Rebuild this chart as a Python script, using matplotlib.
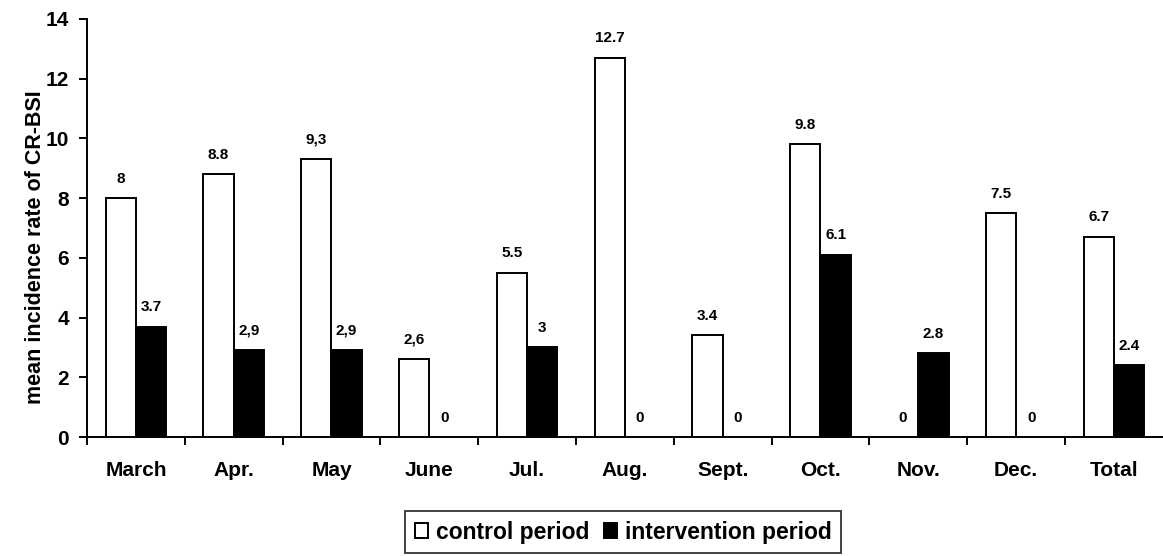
import matplotlib.pyplot as plt
import numpy as np

plt.rcParams['font.family'] = ['Liberation Sans', 'DejaVu Sans']
plt.rcParams['font.weight'] = 'bold'

months = ['March', 'Apr.', 'May', 'June', 'Jul.', 'Aug.', 'Sept.', 'Oct.', 'Nov.', 'Dec.', 'Total']
control = [8, 8.8, 9.3, 2.6, 5.5, 12.7, 3.4, 9.8, 0, 7.5, 6.7]
interv = [3.7, 2.9, 2.9, 0, 3, 0, 0, 6.1, 2.8, 0, 2.4]
control_lbl = ['8', '8.8', '9,3', '2,6', '5.5', '12.7', '3.4', '9.8', '0', '7.5', '6.7']
interv_lbl = ['3.7', '2,9', '2,9', '0', '3', '0', '0', '6.1', '2.8', '0', '2.4']

fig = plt.figure(figsize=(11.63, 5.56), dpi=100)
ax = fig.add_axes([0.0748, 0.214, 0.925, 0.752])

x = np.arange(len(months))
w = 0.31
b1 = ax.bar(x - w/2, control, w, color='white', edgecolor='black', linewidth=1.4,
            label='control period')
b2 = ax.bar(x + w/2, interv, w, color='black', edgecolor='black', linewidth=1.4,
            label='intervention period')

# value labels above bars
for xi, v, t in zip(x, control, control_lbl):
    ax.annotate(t, (xi - w/2, v), xytext=(0, 14), textcoords='offset points',
                ha='center', va='center', fontsize=11, fontweight='bold')
for xi, v, t in zip(x, interv, interv_lbl):
    ax.annotate(t, (xi + w/2, v), xytext=(0, 14), textcoords='offset points',
                ha='center', va='center', fontsize=11, fontweight='bold')

ax.set_xlim(-0.5, 10.5)
ax.set_ylim(0, 14)
ax.set_yticks(range(0, 15, 2))
ax.set_xticks(x - 0.5)
ax.set_xticklabels([])
ax.set_xticks(x, minor=True)
ax.set_xticklabels(months, minor=True, fontsize=15, fontweight='bold')
ax.tick_params(axis='x', which='minor', length=0, pad=17)
ax.tick_params(axis='x', which='major', direction='out', length=6, width=1.4)
ax.tick_params(axis='y', direction='out', length=6, width=1.4, labelsize=15, pad=7)
for lab in ax.get_yticklabels():
    lab.set_fontweight('bold')

ax.spines['top'].set_visible(False)
ax.spines['right'].set_visible(False)
ax.spines['left'].set_linewidth(1.4)
ax.spines['bottom'].set_linewidth(1.4)
ax.set_ylabel('mean incidence rate of CR-BSI', fontsize=15.5, fontweight='bold')
ax.yaxis.set_label_coords(-0.038, 0.455)

leg = fig.legend(handles=[b1, b2], loc='center', bbox_to_anchor=(0.536, 0.043), ncol=2,
                 frameon=True, fancybox=False, edgecolor='black', fontsize=16.5,
                 handlelength=0.6, handleheight=0.6, handletextpad=0.35, columnspacing=0.6,
                 borderpad=0.4, borderaxespad=0)
leg.get_frame().set_linewidth(1.3)
for t in leg.get_texts():
    t.set_fontweight('bold')

fig.savefig('out.png', dpi=100)
